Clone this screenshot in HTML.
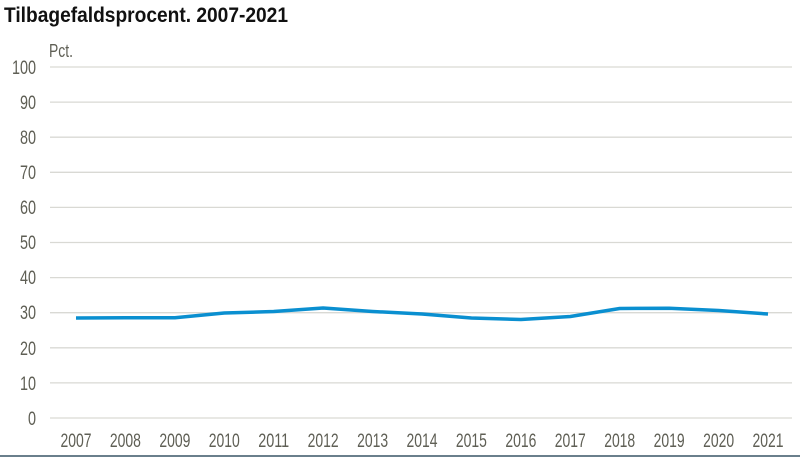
<!DOCTYPE html>
<html><head><meta charset="utf-8"><style>body{margin:0;background:#fff}svg{display:block}</style></head><body>
<svg width="800" height="459" xmlns="http://www.w3.org/2000/svg" font-family="Liberation Sans, sans-serif">
<text x="4" y="22" font-size="21" font-weight="bold" fill="#111" textLength="284" lengthAdjust="spacingAndGlyphs">Tilbagefaldsprocent. 2007-2021</text>
<text x="49" y="57" font-size="18" fill="#5f5f55" textLength="24" lengthAdjust="spacingAndGlyphs">Pct.</text>
<g stroke="#d9d9d4" stroke-width="1.3">
<line x1="50" x2="792" y1="67" y2="67"/><line x1="50" x2="792" y1="102.1" y2="102.1"/><line x1="50" x2="792" y1="137.2" y2="137.2"/><line x1="50" x2="792" y1="172.3" y2="172.3"/><line x1="50" x2="792" y1="207.4" y2="207.4"/><line x1="50" x2="792" y1="242.5" y2="242.5"/><line x1="50" x2="792" y1="277.6" y2="277.6"/><line x1="50" x2="792" y1="312.7" y2="312.7"/><line x1="50" x2="792" y1="347.8" y2="347.8"/><line x1="50" x2="792" y1="382.9" y2="382.9"/><line x1="50" x2="792" y1="418" y2="418"/>
</g>
<g font-size="19" fill="#5f5f55" text-anchor="end" lengthAdjust="spacingAndGlyphs">
<text x="36" y="74" textLength="24" lengthAdjust="spacingAndGlyphs">100</text><text x="36" y="109" textLength="16" lengthAdjust="spacingAndGlyphs">90</text><text x="36" y="144" textLength="16" lengthAdjust="spacingAndGlyphs">80</text><text x="36" y="179" textLength="16" lengthAdjust="spacingAndGlyphs">70</text><text x="36" y="214" textLength="16" lengthAdjust="spacingAndGlyphs">60</text><text x="36" y="249" textLength="16" lengthAdjust="spacingAndGlyphs">50</text><text x="36" y="284" textLength="16" lengthAdjust="spacingAndGlyphs">40</text><text x="36" y="319" textLength="16" lengthAdjust="spacingAndGlyphs">30</text><text x="36" y="355" textLength="16" lengthAdjust="spacingAndGlyphs">20</text><text x="36" y="390" textLength="16" lengthAdjust="spacingAndGlyphs">10</text><text x="36" y="425" textLength="8" lengthAdjust="spacingAndGlyphs">0</text>
</g>
<g font-size="19" fill="#5f5f55" text-anchor="middle">
<text x="76" y="447" textLength="31" lengthAdjust="spacingAndGlyphs">2007</text><text x="125.4" y="447" textLength="31" lengthAdjust="spacingAndGlyphs">2008</text><text x="174.9" y="447" textLength="31" lengthAdjust="spacingAndGlyphs">2009</text><text x="224.3" y="447" textLength="31" lengthAdjust="spacingAndGlyphs">2010</text><text x="273.7" y="447" textLength="31" lengthAdjust="spacingAndGlyphs">2011</text><text x="323.1" y="447" textLength="31" lengthAdjust="spacingAndGlyphs">2012</text><text x="372.6" y="447" textLength="31" lengthAdjust="spacingAndGlyphs">2013</text><text x="422" y="447" textLength="31" lengthAdjust="spacingAndGlyphs">2014</text><text x="471.4" y="447" textLength="31" lengthAdjust="spacingAndGlyphs">2015</text><text x="520.9" y="447" textLength="31" lengthAdjust="spacingAndGlyphs">2016</text><text x="570.3" y="447" textLength="31" lengthAdjust="spacingAndGlyphs">2017</text><text x="619.7" y="447" textLength="31" lengthAdjust="spacingAndGlyphs">2018</text><text x="669.1" y="447" textLength="31" lengthAdjust="spacingAndGlyphs">2019</text><text x="718.6" y="447" textLength="31" lengthAdjust="spacingAndGlyphs">2020</text><text x="768" y="447" textLength="31" lengthAdjust="spacingAndGlyphs">2021</text>
</g>
<polyline fill="none" stroke="#0a8fd0" stroke-width="3.5" stroke-linejoin="round" points="76,318 125.4,317.7 174.9,317.7 224.3,313 273.7,311.5 323.1,308 372.6,311.5 422,314 471.4,318 520.9,319.5 570.3,316.5 619.7,308.5 669.1,308.2 718.6,310.5 768,314"/>
<line x1="0" x2="800" y1="456" y2="456" stroke="#6a7f8c" stroke-width="2"/>
</svg>
</body></html>
